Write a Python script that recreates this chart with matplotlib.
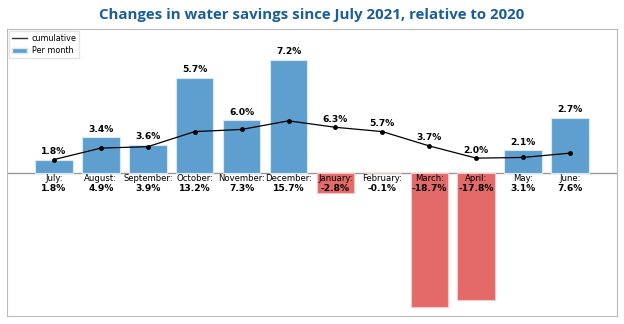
import matplotlib.pyplot as plt
from matplotlib.lines import Line2D
from matplotlib.patches import Patch
import numpy as np

months = ["July", "August", "September", "October", "November", "December",
          "January", "February", "March", "April", "May", "June"]
per_month = [1.8, 4.9, 3.9, 13.2, 7.3, 15.7, -2.8, -0.1, -18.7, -17.8, 3.1, 7.6]
cumulative = [1.8, 3.4, 3.6, 5.7, 6.0, 7.2, 6.3, 5.7, 3.7, 2.0, 2.1, 2.7]

blue = "#5f9fcf"
red = "#e46a6a"

fig = plt.figure(figsize=(6.24, 3.24), dpi=100)
ax = fig.add_axes([7 / 624, 8 / 324, 610 / 624, 287 / 324])

x = np.arange(len(months))
colors = [blue if v >= 0 else red for v in per_month]
edges = ["#d8e8f4" if v >= 0 else "#f6c6c8" for v in per_month]
ax.bar(x, per_month, width=0.8, color=colors, edgecolor=edges, linewidth=0.8,
       zorder=2)
ax.plot(x, cumulative, color="black", lw=0.9, marker="o", markersize=2.5,
        zorder=3)
ax.axhline(0, color="#999999", lw=1.0, zorder=1)

# cumulative value over whichever is higher: bar top or line point
for xi, m, c in zip(x, per_month, cumulative):
    top = max(m, c)
    ax.text(xi, top + 0.5, f"{c:.1f}%", ha="center", va="bottom",
            fontsize=6.6, fontweight="bold", zorder=4)

# month names with the monthly change under the zero line
for xi, name, m in zip(x, months, per_month):
    ax.text(xi, -0.2, f"{name}:", ha="center", va="top", fontsize=6.1, zorder=4)
    ax.text(xi, -1.6, f"{m:.1f}%", ha="center", va="top", fontsize=6.6,
            fontweight="bold", zorder=4)

ax.set_xlim(-1, 12)
ax.set_ylim(-20, 20)
ax.set_xticks([])
ax.set_yticks([])
for s in ax.spines.values():
    s.set_color("#bbbbbb")

handles = [Line2D([], [], color="#333333", lw=1),
           Patch(facecolor=blue, edgecolor="#d8e8f4")]
ax.legend(handles, ["cumulative", "Per month"], loc="upper left",
          fontsize=5.8, frameon=True, borderpad=0.35, handlelength=1.8,
          handletextpad=0.6, labelspacing=0.4, edgecolor="#dddddd",
          borderaxespad=0.3, fancybox=False)

fig.text(0.5, 0.955, "Changes in water savings since July 2021, relative to 2020",
         ha="center", va="center", fontsize=10.8, fontweight="bold",
         color="#1a5e98", family="Open Sans")

fig.savefig("out.png", dpi=100)
